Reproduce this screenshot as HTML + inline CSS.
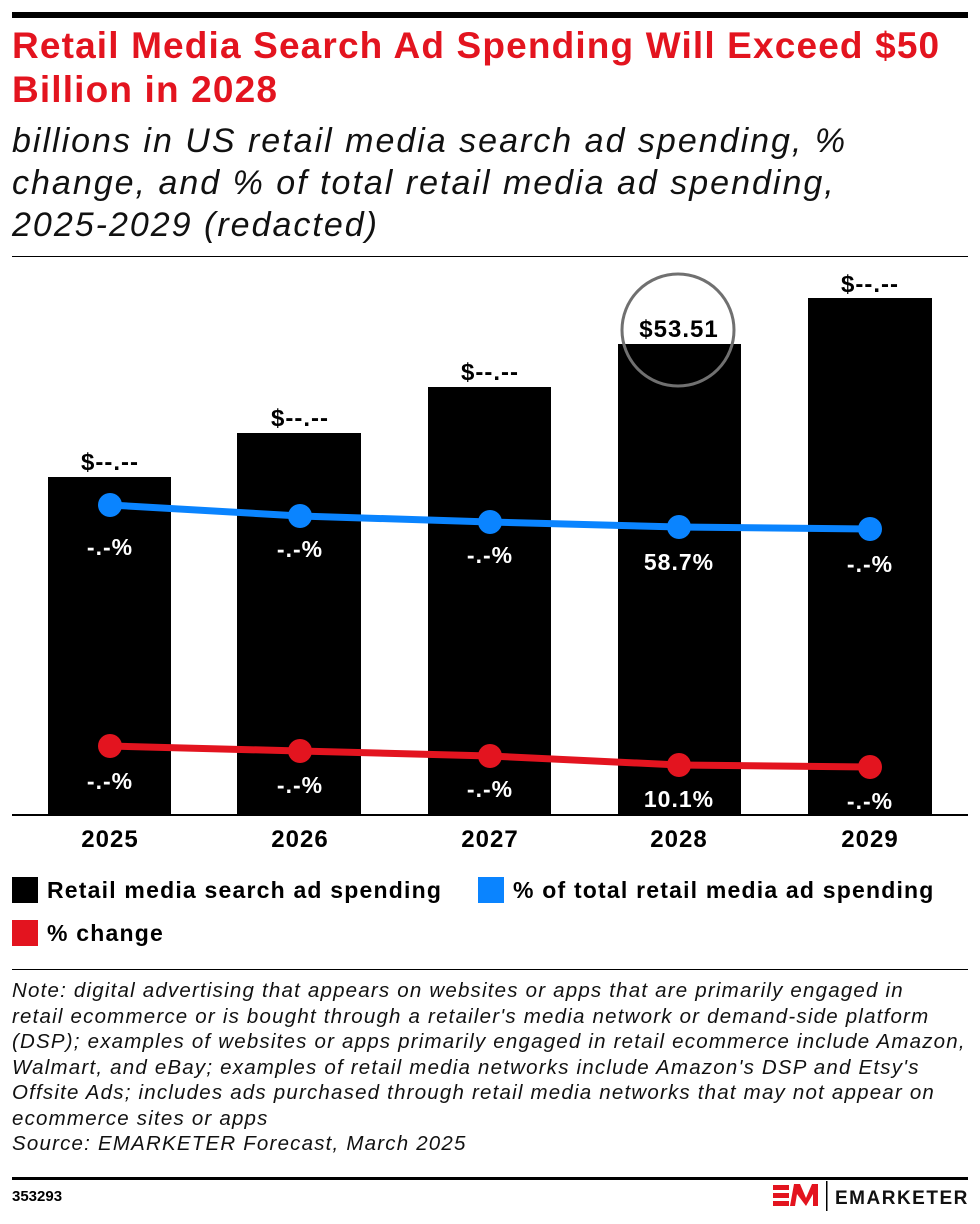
<!DOCTYPE html>
<html><head><meta charset="utf-8"><style>
body{margin:0;width:980px;height:1224px;background:#fff;font-family:"Liberation Sans",sans-serif;position:relative;overflow:hidden}
.a{position:absolute;white-space:nowrap}
</style></head><body>
<div class="a" style="left:12px;top:12px;width:956px;height:6px;background:#000"></div>
<div class="a" style="left:12px;top:24px;font-size:37px;font-weight:bold;color:#e3141f;line-height:44px;letter-spacing:1.15px">Retail Media Search Ad Spending Will Exceed $50<br>Billion in 2028</div>
<div class="a" style="left:12px;top:120px;font-size:34px;font-style:italic;color:#111;line-height:42px;letter-spacing:2px">billions in US retail media search ad spending, %<br>change, and % of total retail media ad spending,<br>2025-2029 (redacted)</div>
<div class="a" style="left:12px;top:256px;width:956px;height:1px;background:#000"></div>
<svg class="a" style="left:0;top:0" width="980" height="1224" font-family="Liberation Sans, sans-serif" font-weight="bold">
<g fill="#000">
<rect x="48" y="477" width="123" height="338"/>
<rect x="237" y="433" width="124" height="382"/>
<rect x="428" y="387" width="123" height="428"/>
<rect x="618" y="344" width="123" height="471"/>
<rect x="808" y="298" width="124" height="517"/>
</g>
<rect x="12" y="814" width="956" height="2" fill="#000"/>
<g font-size="24" text-anchor="middle" fill="#000" letter-spacing="1">
<text x="110" y="470">$--.--</text><text x="300" y="426">$--.--</text><text x="490" y="380">$--.--</text>
<text x="679" y="337">$53.51</text><text x="870" y="292">$--.--</text>
<text x="110" y="847">2025</text><text x="300" y="847">2026</text><text x="490" y="847">2027</text><text x="679" y="847">2028</text><text x="870" y="847">2029</text>
</g>
<circle cx="678" cy="330" r="56" fill="none" stroke="#707070" stroke-width="3"/>
<polyline points="110,505 300,516 490,522 679,527 870,529" fill="none" stroke="#0a84ff" stroke-width="7"/>
<g fill="#0a84ff"><circle cx="110" cy="505" r="12"/><circle cx="300" cy="516" r="12"/><circle cx="490" cy="522" r="12"/><circle cx="679" cy="527" r="12"/><circle cx="870" cy="529" r="12"/></g>
<polyline points="110,746 300,751 490,756 679,765 870,767" fill="none" stroke="#e3141f" stroke-width="7"/>
<g fill="#e3141f"><circle cx="110" cy="746" r="12"/><circle cx="300" cy="751" r="12"/><circle cx="490" cy="756" r="12"/><circle cx="679" cy="765" r="12"/><circle cx="870" cy="767" r="12"/></g>
<g font-size="23" text-anchor="middle" fill="#fff" letter-spacing="1">
<text x="110" y="555">-.-%</text><text x="300" y="557">-.-%</text><text x="490" y="563">-.-%</text><text x="679" y="570">58.7%</text><text x="870" y="572">-.-%</text>
<text x="110" y="789">-.-%</text><text x="300" y="793">-.-%</text><text x="490" y="797">-.-%</text><text x="679" y="807">10.1%</text><text x="870" y="809">-.-%</text>
</g>
<rect x="12" y="877" width="26" height="26" fill="#000"/>
<rect x="478" y="877" width="26" height="26" fill="#0a84ff"/>
<rect x="12" y="920" width="26" height="26" fill="#e3141f"/>
<g font-size="23" fill="#000" letter-spacing="1.2"><text x="47" y="898">Retail media search ad spending</text><text x="513" y="898">% of total retail media ad spending</text><text x="47" y="941">% change</text></g>
<rect x="12" y="969" width="956" height="1" fill="#000"/>
<rect x="12" y="1177" width="956" height="3" fill="#000"/>
<text x="12" y="1201" font-size="15" fill="#000">353293</text>
<g fill="#e3141f"><rect x="773" y="1185" width="16" height="5"/><rect x="773" y="1193" width="16" height="5"/><rect x="773" y="1201" width="16" height="5"/><polygon points="790,1206 794,1184 800,1184 806,1198 812,1184 818,1184 818,1206 813,1206 813,1194 806,1206 797,1194 795,1206"/></g>
<rect x="826" y="1181" width="1.5" height="30" fill="#000"/>
<text x="835" y="1204" font-size="19" fill="#111" letter-spacing="1.5">EMARKETER</text>
</svg>
<div class="a" style="left:12px;top:978px;font-size:20.5px;font-style:italic;color:#111;line-height:25.5px;letter-spacing:1.2px">Note: digital advertising that appears on websites or apps that are primarily engaged in<br>retail ecommerce or is bought through a retailer's media network or demand-side platform<br>(DSP); examples of websites or apps primarily engaged in retail ecommerce include Amazon,<br>Walmart, and eBay; examples of retail media networks include Amazon's DSP and Etsy's<br>Offsite Ads; includes ads purchased through retail media networks that may not appear on<br>ecommerce sites or apps<br>Source: EMARKETER Forecast, March 2025</div>
</body></html>
